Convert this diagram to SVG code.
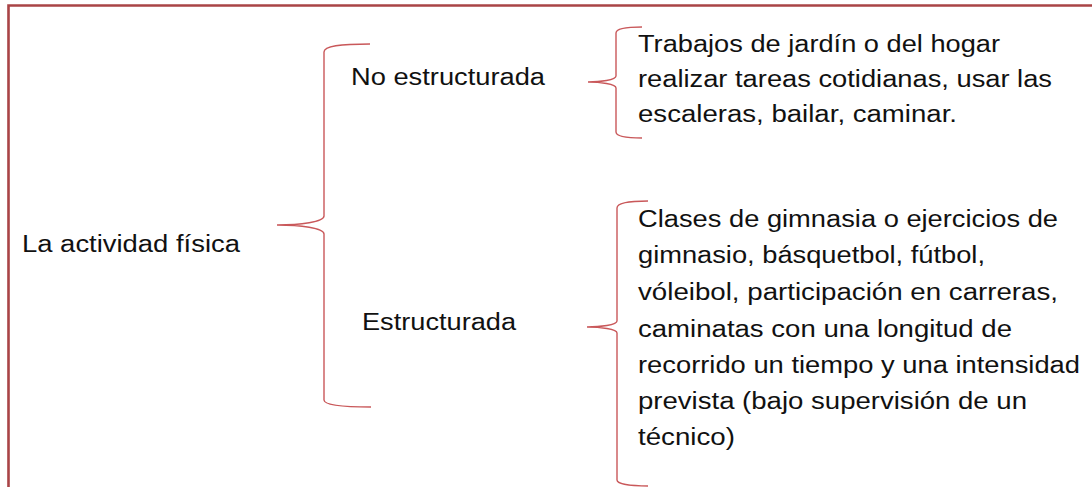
<svg xmlns="http://www.w3.org/2000/svg" width="1092" height="487" viewBox="0 0 1092 487">
<style>
.t{font-family:"Liberation Sans",Arial,sans-serif;font-size:23px;fill:#111}
.brace{fill:none;stroke:#c9585a;stroke-width:1.4}
.frame{fill:none;stroke:#a94446;stroke-width:2.6}
</style>
<rect width="1092" height="487" fill="#fff"/>
<g id="frame"><path class="frame" d="M8.5,487 L8.5,5.5 L1092,5.5"/></g>
<g id="connectors">
<path class="brace" d="M370,44 C340,44 324,46 324,52 L324,216 C324,222 300,225 277,225 C300,225 324,228 324,234 L324,400 C324,405 340,407 371,407"/>
<path class="brace" d="M642,27 C625,27 616,29 616,33 L616,76 C616,80 600,82 588,82 C600,82 616,84 616,88 L616,132 C616,136 625,138 642,138"/>
<path class="brace" d="M648,201 C630,201 617,203 617,208 L617,321 C617,325 600,327 587,327 C600,327 617,329 617,333 L617,480 C617,484 630,486 648,486"/>
</g>
<g id="root"><text class="t" x="22" y="252" textLength="218" lengthAdjust="spacingAndGlyphs">La actividad física</text></g>
<g id="no-estructurada"><text class="t" x="351" y="85" textLength="194" lengthAdjust="spacingAndGlyphs">No estructurada</text></g>
<g id="estructurada"><text class="t" x="362" y="330" textLength="154" lengthAdjust="spacingAndGlyphs">Estructurada</text></g>
<g id="desc-no-estructurada">
<text class="t" x="638" y="52" textLength="362" lengthAdjust="spacingAndGlyphs">Trabajos de jardín o del hogar</text>
<text class="t" x="638" y="87" textLength="414" lengthAdjust="spacingAndGlyphs">realizar tareas cotidianas, usar las</text>
<text class="t" x="638" y="122" textLength="319" lengthAdjust="spacingAndGlyphs">escaleras, bailar, caminar.</text>
</g>
<g id="desc-estructurada">
<text class="t" x="638" y="227" textLength="420" lengthAdjust="spacingAndGlyphs">Clases de gimnasia o ejercicios de</text>
<text class="t" x="638" y="263" textLength="347" lengthAdjust="spacingAndGlyphs">gimnasio, básquetbol, fútbol,</text>
<text class="t" x="638" y="300" textLength="420" lengthAdjust="spacingAndGlyphs">vóleibol, participación en carreras,</text>
<text class="t" x="638" y="337" textLength="374" lengthAdjust="spacingAndGlyphs">caminatas con una longitud de</text>
<text class="t" x="638" y="373" textLength="442" lengthAdjust="spacingAndGlyphs">recorrido un tiempo y una intensidad</text>
<text class="t" x="638" y="409" textLength="389" lengthAdjust="spacingAndGlyphs">prevista (bajo supervisión de un</text>
<text class="t" x="638" y="445" textLength="97" lengthAdjust="spacingAndGlyphs">técnico)</text>
</g>
</svg>
